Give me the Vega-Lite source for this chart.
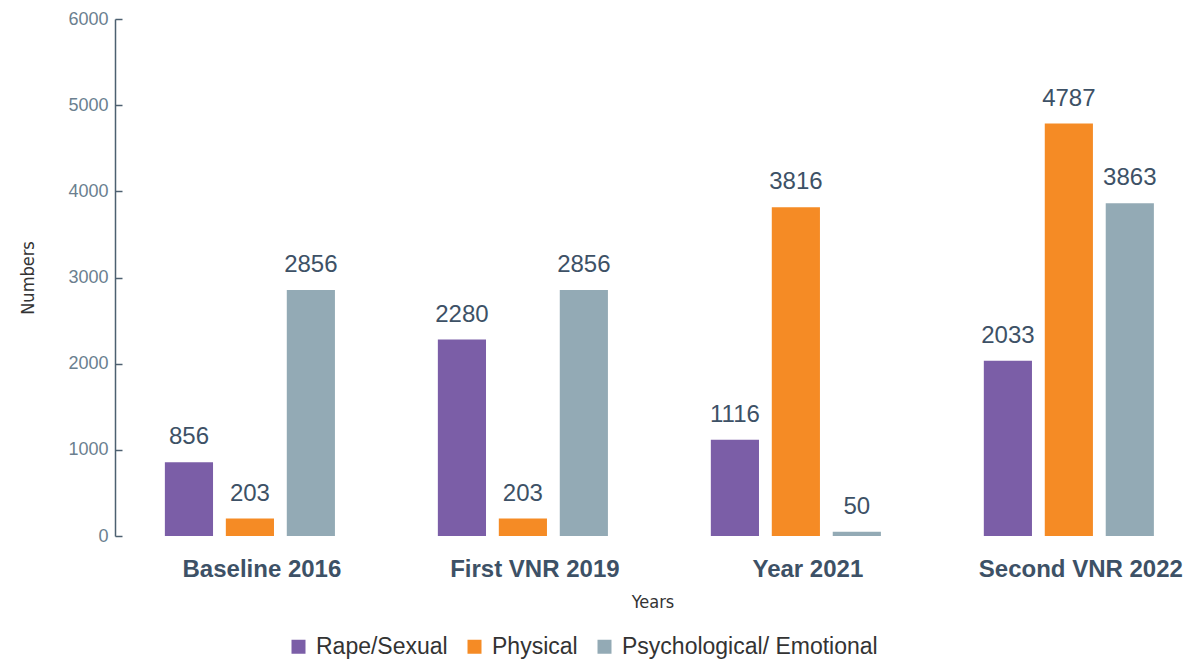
{
  "$schema": "https://vega.github.io/schema/vega-lite/v6.json",
  "width": 1075,
  "height": 517,
  "autosize": {"type": "none"},
  "padding": {"left": 115, "top": 19, "right": 8, "bottom": 125},
  "background": "white",
  "config": {
    "view": {"stroke": null},
    "font": "Liberation Sans"
  },
  "data": {
    "values": [
      {"year": "Baseline 2016", "type": "Rape/Sexual", "value": 856},
      {"year": "Baseline 2016", "type": "Physical", "value": 203},
      {"year": "Baseline 2016", "type": "Psychological/ Emotional", "value": 2856},
      {"year": "First VNR 2019", "type": "Rape/Sexual", "value": 2280},
      {"year": "First VNR 2019", "type": "Physical", "value": 203},
      {"year": "First VNR 2019", "type": "Psychological/ Emotional", "value": 2856},
      {"year": "Year 2021", "type": "Rape/Sexual", "value": 1116},
      {"year": "Year 2021", "type": "Physical", "value": 3816},
      {"year": "Year 2021", "type": "Psychological/ Emotional", "value": 50},
      {"year": "Second VNR 2022", "type": "Rape/Sexual", "value": 2033},
      {"year": "Second VNR 2022", "type": "Physical", "value": 4787},
      {"year": "Second VNR 2022", "type": "Psychological/ Emotional", "value": 3863}
    ]
  },
  "encoding": {
    "x": {
      "field": "year", "type": "nominal", "sort": null,
      "scale": {"paddingInner": 0.377, "paddingOuter": 0.1575, "align": 0.58},
      "axis": {
        "title": "Years", "labelAngle": 0, "domain": false, "ticks": false,
        "labelFont": "Liberation Sans", "labelFontWeight": "bold", "labelFontSize": 24,
        "labelColor": "#3d5166", "labelPadding": 21, "labelOffset": 12, "labelLimit": 400,
        "titleFont": "DejaVu Sans Condensed", "titleFontWeight": "normal", "titleFontSize": 18,
        "titleColor": "#333333", "titlePadding": 12
      }
    },
    "xOffset": {"field": "type", "type": "nominal", "sort": null, "scale": {"paddingInner": 0.21, "paddingOuter": 0}},
    "y": {
      "field": "value", "type": "quantitative",
      "scale": {"domain": [0, 6000], "nice": false},
      "axis": {
        "title": "Numbers", "values": [0, 1000, 2000, 3000, 4000, 5000, 6000], "grid": false, "format": "d",
        "domainColor": "#4d6070", "domainWidth": 1.5, "tickColor": "#4d6070", "tickWidth": 1.5, "tickSize": {"expr": "-7"},
        "labelColor": "#6b7f8f", "labelFontSize": 18, "labelPadding": 14,
        "titleFont": "DejaVu Sans Condensed", "titleFontWeight": "normal", "titleFontSize": 18,
        "titleColor": "#333333", "titlePadding": 30
      }
    }
  },
  "layer": [
    {
      "mark": {"type": "bar"},
      "encoding": {
        "color": {
          "field": "type", "type": "nominal", "sort": null,
          "scale": {"domain": ["Rape/Sexual", "Physical", "Psychological/ Emotional"], "range": ["#7b5ea7", "#f58b25", "#93aab5"]},
          "legend": {
            "title": null, "orient": "none", "direction": "horizontal",
            "legendX": 172, "legendY": 616,
            "symbolType": "square", "symbolSize": 196, "symbolStrokeWidth": 0,
            "labelFontSize": 23, "labelColor": "#333333", "labelFont": "Liberation Sans",
            "labelOffset": 6, "columnPadding": 15, "labelLimit": 400
          }
        }
      }
    },
    {
      "mark": {"type": "text", "baseline": "alphabetic", "dy": -18, "fontSize": 24, "color": "#3d5166"},
      "encoding": {"text": {"field": "value", "type": "quantitative"}}
    }
  ]
}
